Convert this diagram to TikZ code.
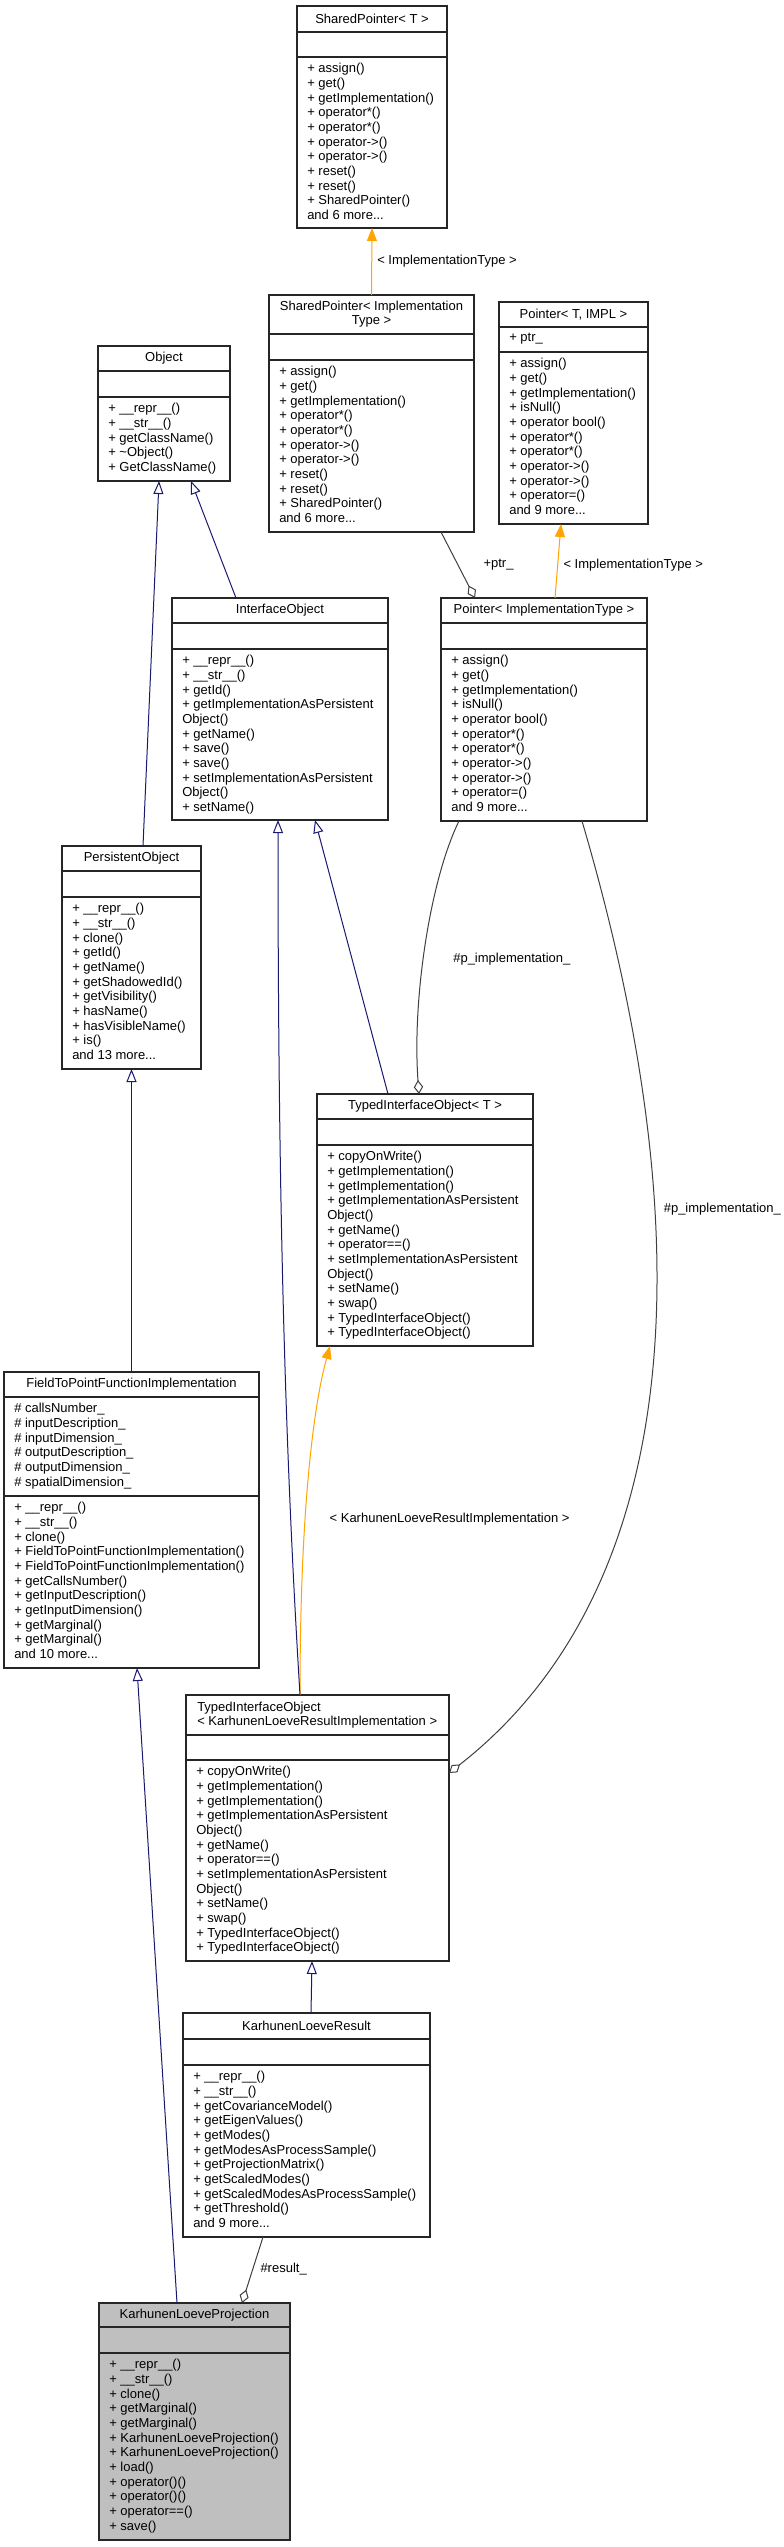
\documentclass[tikz,border=0pt]{standalone}
\usepackage{fontspec}
\setmainfont{Liberation Sans}
\usetikzlibrary{arrows.meta,calc}

\definecolor{inhblue}{RGB}{25,25,112}
\definecolor{tplorange}{RGB}{255,165,0}
\definecolor{usegray}{RGB}{64,64,64}
\definecolor{focusgray}{RGB}{191,191,191}

\tikzset{
  cls/.style={draw=black!85, fill=white, line width=0.8pt, inner sep=0pt, outer sep=0pt, anchor=north west},
  sz/.style 2 args={minimum width=#1*0.75pt, minimum height=#2*0.75pt},
  sep/.style={draw=black!85, line width=0.8pt},
  ttl/.style={inner sep=0pt, align=center, font=\fontsize{9.75pt}{11pt}\selectfont},
  mem/.style={anchor=north west, inner sep=0pt, align=left, font=\fontsize{9.75pt}{11pt}\selectfont},
  lbl/.style={anchor=west, inner sep=0pt, font=\fontsize{9.75pt}{11pt}\selectfont},
  inh/.style={draw=inhblue, line width=0.75pt, -{Triangle[open, length=9.75pt, width=7.5pt]}},
  tpl/.style={draw=tplorange, line width=0.75pt, -{Triangle[length=9.75pt, width=7.5pt]}},
  usg/.style={draw=usegray, line width=0.75pt, -{Diamond[open, length=10.5pt, width=7pt]}},
}

\begin{document}
\begin{tikzpicture}[x=0.75pt,y=0.75pt,yscale=-1,xscale=1]
\fill[white] (0,0) rectangle (784,2547);

%Class: SharedPointer< T >
\node[cls, sz={150}{222}] (sptT) at (297,6) {};
\draw[sep] (297,32) -- (447,32);
\draw[sep] (297,57) -- (447,57);
\node[ttl] at (372,19) {SharedPointer< T >};
\node[mem] at (307,63) {+ assign()\\+ get()\\+ getImplementation()\\+ operator*()\\+ operator*()\\+ operator->()\\+ operator->()\\+ reset()\\+ reset()\\+ SharedPointer()\\and 6 more...};

%Class: SharedPointer< ImplementationType >
\node[cls, sz={205}{237}] (sptI) at (269,295) {};
\draw[sep] (269,334) -- (474,334);
\draw[sep] (269,360) -- (474,360);
\node[ttl] at (371.5,314) {SharedPointer< Implementation\\Type >};
\node[mem] at (279,366) {+ assign()\\+ get()\\+ getImplementation()\\+ operator*()\\+ operator*()\\+ operator->()\\+ operator->()\\+ reset()\\+ reset()\\+ SharedPointer()\\and 6 more...};

%Class: Pointer< T, IMPL >
\node[cls, sz={149}{222}] (ptrT) at (499,302) {};
\draw[sep] (499,327) -- (648,327);
\draw[sep] (499,352) -- (648,352);
\node[ttl] at (573.5,314.5) {Pointer< T, IMPL >};
\node[mem] at (509,333) {+ ptr\_};
\node[mem] at (509,358) {+ assign()\\+ get()\\+ getImplementation()\\+ isNull()\\+ operator bool()\\+ operator*()\\+ operator*()\\+ operator->()\\+ operator->()\\+ operator=()\\and 9 more...};

%Class: Object
\node[cls, sz={132}{135}] (obj) at (98,346) {};
\draw[sep] (98,371) -- (230,371);
\draw[sep] (98,397) -- (230,397);
\node[ttl] at (164,358.5) {Object};
\node[mem] at (108,403) {+ \_\_repr\_\_()\\+ \_\_str\_\_()\\+ getClassName()\\+ \textasciitilde Object()\\+ GetClassName()};

%Class: InterfaceObject
\node[cls, sz={216}{222}] (ifo) at (172,598) {};
\draw[sep] (172,623) -- (388,623);
\draw[sep] (172,649) -- (388,649);
\node[ttl] at (280,610.5) {InterfaceObject};
\node[mem] at (182,655) {+ \_\_repr\_\_()\\+ \_\_str\_\_()\\+ getId()\\+ getImplementationAsPersistent\\Object()\\+ getName()\\+ save()\\+ save()\\+ setImplementationAsPersistent\\Object()\\+ setName()};

%Class: Pointer< ImplementationType >
\node[cls, sz={206}{223}] (ptrI) at (441,598) {};
\draw[sep] (441,623) -- (647,623);
\draw[sep] (441,649) -- (647,649);
\node[ttl] at (544,610.5) {Pointer< ImplementationType >};
\node[mem] at (451,655) {+ assign()\\+ get()\\+ getImplementation()\\+ isNull()\\+ operator bool()\\+ operator*()\\+ operator*()\\+ operator->()\\+ operator->()\\+ operator=()\\and 9 more...};

%Class: PersistentObject
\node[cls, sz={139}{223}] (pob) at (62,846) {};
\draw[sep] (62,871) -- (201,871);
\draw[sep] (62,897) -- (201,897);
\node[ttl] at (131.5,858.5) {PersistentObject};
\node[mem] at (72,903) {+ \_\_repr\_\_()\\+ \_\_str\_\_()\\+ clone()\\+ getId()\\+ getName()\\+ getShadowedId()\\+ getVisibility()\\+ hasName()\\+ hasVisibleName()\\+ is()\\and 13 more...};

%Class: TypedInterfaceObject< T >
\node[cls, sz={216}{252}] (tioT) at (317,1094) {};
\draw[sep] (317,1119) -- (533,1119);
\draw[sep] (317,1145) -- (533,1145);
\node[ttl] at (425,1106.5) {TypedInterfaceObject< T >};
\node[mem] at (327,1151) {+ copyOnWrite()\\+ getImplementation()\\+ getImplementation()\\+ getImplementationAsPersistent\\Object()\\+ getName()\\+ operator==()\\+ setImplementationAsPersistent\\Object()\\+ setName()\\+ swap()\\+ TypedInterfaceObject()\\+ TypedInterfaceObject()};

%Class: FieldToPointFunctionImplementation
\node[cls, sz={255}{296}] (ftp) at (4,1372) {};
\draw[sep] (4,1397) -- (259,1397);
\draw[sep] (4,1496) -- (259,1496);
\node[ttl] at (131.5,1384.5) {FieldToPointFunctionImplementation};
\node[mem] at (14,1403) {\# callsNumber\_\\\# inputDescription\_\\\# inputDimension\_\\\# outputDescription\_\\\# outputDimension\_\\\# spatialDimension\_};
\node[mem] at (14,1502) {+ \_\_repr\_\_()\\+ \_\_str\_\_()\\+ clone()\\+ FieldToPointFunctionImplementation()\\+ FieldToPointFunctionImplementation()\\+ getCallsNumber()\\+ getInputDescription()\\+ getInputDimension()\\+ getMarginal()\\+ getMarginal()\\and 10 more...};

%Class: TypedInterfaceObject< KarhunenLoeveResultImplementation >
\node[cls, sz={263}{266}] (tioK) at (186,1695) {};
\draw[sep] (186,1735) -- (449,1735);
\draw[sep] (186,1760) -- (449,1760);
\node[ttl, anchor=west, align=left] at (197,1715) {TypedInterfaceObject\\< KarhunenLoeveResultImplementation >};
\node[mem] at (196,1766) {+ copyOnWrite()\\+ getImplementation()\\+ getImplementation()\\+ getImplementationAsPersistent\\Object()\\+ getName()\\+ operator==()\\+ setImplementationAsPersistent\\Object()\\+ setName()\\+ swap()\\+ TypedInterfaceObject()\\+ TypedInterfaceObject()};

%Class: KarhunenLoeveResult
\node[cls, sz={247}{224}] (klr) at (183,2013) {};
\draw[sep] (183,2039) -- (430,2039);
\draw[sep] (183,2065) -- (430,2065);
\node[ttl] at (306.5,2026) {KarhunenLoeveResult};
\node[mem] at (193,2071) {+ \_\_repr\_\_()\\+ \_\_str\_\_()\\+ getCovarianceModel()\\+ getEigenValues()\\+ getModes()\\+ getModesAsProcessSample()\\+ getProjectionMatrix()\\+ getScaledModes()\\+ getScaledModesAsProcessSample()\\+ getThreshold()\\and 9 more...};

%Class: KarhunenLoeveProjection
\node[cls, fill=focusgray, sz={191}{237}] (klp) at (99,2303) {};
\draw[sep] (99,2327) -- (290,2327);
\draw[sep] (99,2353) -- (290,2353);
\node[ttl] at (194.5,2315) {KarhunenLoeveProjection};
\node[mem] at (109,2359) {+ \_\_repr\_\_()\\+ \_\_str\_\_()\\+ clone()\\+ getMarginal()\\+ getMarginal()\\+ KarhunenLoeveProjection()\\+ KarhunenLoeveProjection()\\+ load()\\+ operator()()\\+ operator()()\\+ operator==()\\+ save()};

% Template instances
\draw[tpl] (sptI.north) -- (sptT.south) node[lbl, midway, xshift=3.75pt] {< ImplementationType >};
\draw[tpl] ($(ptrI.north west)+(114,0)$) -- ($(ptrT.south west)+(62,0)$) node[lbl, pos=0.45, xshift=4pt] {< ImplementationType >};
\draw[tpl] ($(tioK.north west)+(114,0)$) .. controls +(0,-195) and +(-15,54) .. ($(tioT.south west)+(13,0)$) node[lbl, pos=0.36, xshift=18pt] {< KarhunenLoeveResultImplementation >};

% Inheritance
\draw[inh] ($(pob.north west)+(81,0)$) -- ($(obj.south west)+(61,0)$);
\draw[inh] ($(ifo.north west)+(64,0)$) -- ($(obj.south west)+(93,0)$);
\draw[inh] ($(tioT.north west)+(71,0)$) -- ($(ifo.south west)+(143,0)$);
\draw[inh] ($(tioK.north west)+(114,0)$) .. controls +(-15,-245) and +(0,380) .. ($(ifo.south west)+(106,0)$);
\draw[inh] (ftp.north) -- (pob.south);
\draw[inh] ($(klp.north west)+(78,0)$) -- ($(ftp.south west)+(133,0)$);
\draw[inh] ($(klr.north west)+(128,0)$) -- ($(tioK.south west)+(126,0)$);

% Usage
\draw[usg] ($(sptI.south west)+(172,0)$) -- ($(ptrI.north west)+(34,0)$) node[lbl, midway, xshift=18.75pt] {+ptr\_};
\draw[usg] ($(ptrI.south west)+(18,0)$) .. controls +(-29,59) and +(-7,-94) .. ($(tioT.north west)+(102,0)$) node[lbl, pos=0.55, xshift=22pt] {\#p\_implementation\_};
\draw[usg] ($(ptrI.south west)+(141,0)$) .. controls +(142,483) and +(205,-160) .. ($(tioK.north east)+(0,78)$) node[lbl, pos=0.3, xshift=6.5pt] {\#p\_implementation\_};
\draw[usg] ($(klr.south west)+(80,0)$) -- ($(klp.north west)+(143,0)$) node[lbl, pos=0.485, xshift=5.4pt] {\#result\_};

\end{tikzpicture}
\end{document}
